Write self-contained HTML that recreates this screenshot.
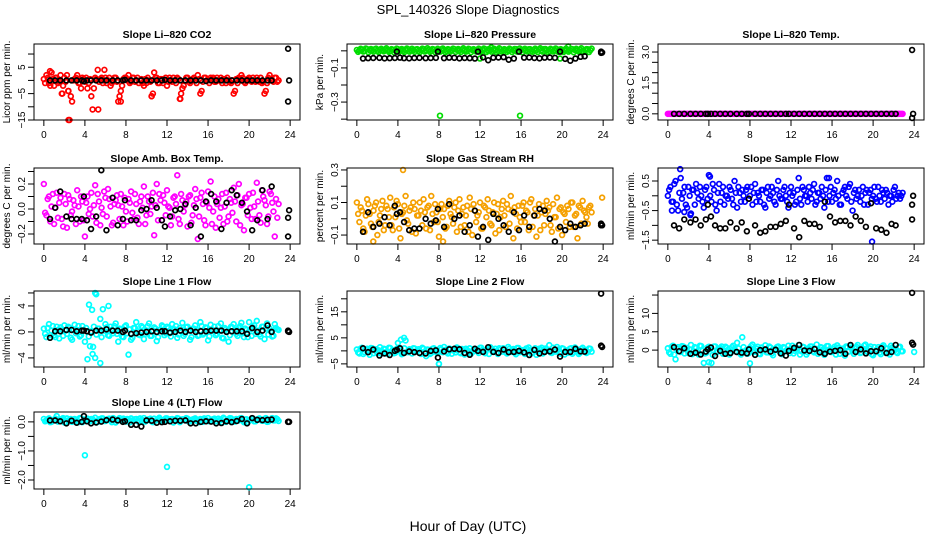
<!DOCTYPE html>
<html><head><meta charset="utf-8"><style>
html,body{margin:0;padding:0;background:#fff;}
svg{display:block;font-family:"Liberation Sans",sans-serif;}
</style></head><body>
<svg id="chart" width="936" height="540" viewBox="0 0 936 540" xmlns="http://www.w3.org/2000/svg">
<text x="468" y="14" text-anchor="middle" font-size="13">SPL_140326  Slope Diagnostics</text>
<text x="468" y="531" text-anchor="middle" font-size="14">Hour of Day (UTC)</text>
</svg>
<script>
const xTicks = [0,4,8,12,16,20,24];
const blackHours = [0.6,1.1,1.6,2.2,2.7,3.2,3.7,3.9,4.2,4.6,5.1,5.6,6.1,6.7,7.2,7.7,7.9,8.5,9,9.5,10,10.5,11,11.5,11.8,12.3,12.8,13.3,13.8,14.3,14.8,15.3,15.8,16.3,16.8,17.3,17.8,18.3,18.8,19.3,19.8,20.3,20.8,21.3,21.8,22.2];
const endHours = [23.8,23.8,23.9];
const colorStep = 0.25;

const co2Color = [0.5,2,-1,3,-2,1,-0.5,-5,1,2,-15,-8,0.5,2,-1,1,-0.5,-3,0.5,-11,1,4,0.5,-1,1,0,-2,0,1,-8,-4,0.5,1,2,-0.5,1,0,-1,0.5,-2,-1,0,-6,3,1,-1,0.5,0,-2,1,-0.5,0,1,-7,-3,0,1,-1,0.5,0,2,-5,-0.5,1,0,1,1,-0.5,0,1,0.5,-1,0,-1,-5,0.5,1,2,-0.5,0,1,-0.5,0,1,-0.5,-1,-5,-1,2,0,1,-0.5];
const co2Color2 = [-1,1,-2,0.5,1,-1,2,-2,-0.5,-4,-6,0,1,-1,-3,0.5,1,-1,-6,-3,0.5,-0.5,1,0,-1,1,-1,1,-0.5,-6,-2,1,0,-1,1,-0.5,1,0,-1,0.5,1,-0.5,-5,1,-1,0.5,-1,1,-0.5,0,1,-1,0.5,-5,-2,1,-0.5,0,1,-1,0.5,-4,1,0,-1,0.5,-0.5,1,0,-1,0.5,1,-0.5,0,-4,-1,0.5,1,-1,0.5,0,1,-0.5,0,1,-0.5,-4,1,0,-0.5,1,0];
const co2Black = [0,0,0,0,0,0,0,-0.3,0,0,0,0,0,0,0,0,0.2,0,0,0,0,0,0,0,0.2,0,0,0,0,0,0,0,-0.2,0,0,0,0,0,0,0,0,0,0,0,0,0];
const co2End = [12,-8,0];
const co2OutX = [2.4,2.4,5.3,1.8,7.5,10.5,13.3,0.6,5.9];
const co2OutY = [-15,-4,-11,-5,-8,-6,-7,3.5,4];

const presColor = [0.005,0.002,0.008,0,0.01,0.004,0.003,0.009,0.001,0.006,0.002,0.008,0.004,0,0.007,0.003,0.01,0.005,0.001,0.006,0.009,0.002,0.004,0.008,0,0.005,0.01,0.003,0.006,0.001,0.008,0.004,0.002,0.009,0.005,0,0.007,0.003,0.01,0.006,0.002,0.008,0.004,0.001,0.009,0.005,0.003,0.007,0,0.006,0.01,0.002,0.004,0.008,0.005,0.001,0.009,0.003,0.006,0.002,0.008,0.004,0.01,0,0.005,0.007,0.003,0.009,0.001,0.006,0.004,0.008,0.002,0.01,0.005,0,0.007,0.003,0.009,0.006,0.001,0.004,0.008,0.002,0.01,0.005,0.003,0.007,0,0.006,0.009,0.004];
const presColor2 = [-0.006,0.012,-0.004,0.014,-0.008,0.011,-0.005,0.013,-0.007,0.012,-0.003,0.015,-0.006,0.01,-0.008,0.013,-0.004,0.011,-0.007,0.014,-0.005,0.012,-0.006,0.01,-0.008,0.013,-0.004,0.015,-0.006,0.011,-0.007,0.012,-0.005,0.014,-0.008,0.01,-0.004,0.013,-0.006,0.011,-0.007,0.015,-0.005,0.012,-0.008,0.01,-0.004,0.013,-0.006,0.014,-0.007,0.011,-0.005,0.012,-0.008,0.015,-0.004,0.01,-0.006,0.013,-0.007,0.011,-0.005,0.014,-0.008,0.012,-0.004,0.01,-0.006,0.013,-0.007,0.015,-0.005,0.011,-0.008,0.012,-0.004,0.014,-0.006,0.01,-0.007,0.013,-0.005,0.011,-0.008,0.012,-0.004,0.015,-0.006,0.01,-0.007,0.013];
const presBlack = [-0.045,-0.043,-0.042,-0.041,-0.044,-0.043,-0.042,-0.005,-0.04,-0.043,-0.044,-0.042,-0.041,-0.043,-0.042,-0.041,-0.005,-0.043,-0.04,-0.041,-0.044,-0.042,-0.043,-0.045,-0.005,-0.038,-0.055,-0.04,-0.039,-0.037,-0.052,-0.045,-0.005,-0.04,-0.039,-0.042,-0.044,-0.04,-0.039,-0.041,-0.005,-0.047,-0.058,-0.045,-0.035,-0.032];
const presEnd = [-0.005,-0.012,-0.01];
const presOutX = [8.1,15.9,12,19.8,20.6,13.1];
const presOutY = [-0.38,-0.38,-0.045,-0.045,0.025,0.02];

const tempColor = new Array(92).fill(0);
const tempColor2 = new Array(92).fill(0);
const tempBlack = new Array(46).fill(0);
const tempEnd = [3.1,-0.2,0];
const tempOutX = [];
const tempOutY = [];

const ambColor = [0.2,-0.05,0.1,0.02,-0.12,0.13,0.05,-0.08,0.12,-0.15,0.08,-0.02,0.03,0.15,-0.1,0.06,-0.22,0.1,0,-0.06,0.19,0.12,-0.13,-0.04,0.09,0.16,0.02,-0.11,0.07,0.03,0.12,-0.13,-0.02,0.08,0.14,-0.08,0.04,-0.12,0.1,0.18,-0.05,0.06,0.02,-0.21,0.2,0.12,-0.09,0.05,0.15,0.01,-0.06,0.1,0.27,-0.12,0.07,0.03,-0.14,0.11,-0.05,0.16,-0.24,0.09,0.04,-0.13,0.14,0.22,-0.02,-0.15,0.08,0.01,-0.12,0.13,-0.06,0.05,0.17,-0.1,0.2,0.03,-0.17,0.09,0.12,-0.08,0.02,0.21,-0.05,0.15,0.07,-0.12,0.14,0.05,-0.22,-0.07];
const ambColor2 = [-0.03,0.08,-0.1,0.12,0.01,-0.07,0.09,-0.14,0.04,0.11,-0.05,0.07,-0.12,0.02,0.1,-0.09,0.05,-0.04,0.13,0.03,-0.11,0.06,0.01,0.14,-0.06,0.08,-0.13,0.04,0.11,-0.08,0.02,0.09,-0.1,0.05,-0.03,0.12,-0.07,0.06,0.01,-0.12,0.1,-0.04,0.13,0.03,-0.09,0.07,0.11,-0.05,0.02,-0.13,0.09,0.04,-0.08,0.12,-0.02,0.06,0.1,-0.11,0.03,0.08,-0.06,0.13,-0.09,0.05,0.01,-0.12,0.1,0.04,-0.07,0.12,0.02,-0.1,0.08,-0.03,0.06,0.11,-0.13,0.04,0.09,-0.05,0.01,0.13,-0.08,0.06,-0.11,0.1,0.03,-0.06,0.12,-0.02,0.08,0.04];
const ambBlack = [-0.08,0.01,0.14,-0.06,-0.08,-0.08,-0.08,0.1,-0.09,-0.16,-0.06,0.31,-0.17,0.09,-0.13,-0.08,0.07,-0.09,-0.09,-0.01,0,0.07,0.01,-0.09,-0.14,-0.06,-0.01,0,0.04,-0.13,0.01,-0.22,0.06,0.12,0.06,-0.16,0.05,0.15,0.11,0.05,-0.02,-0.17,-0.09,0.15,-0.08,0.18];
const ambEnd = [-0.22,-0.07,-0.01];
const ambOutX = [];
const ambOutY = [];

const rhColor = [0.1,-0.02,0.05,-0.08,0.12,0.03,-0.05,0.08,-0.1,0.02,0.11,-0.04,0.06,0.13,-0.07,0.01,0.09,-0.12,0.04,0.14,-0.03,0.07,0.1,-0.09,0.02,0.05,0.12,-0.06,0.08,0.14,-0.02,0.04,-0.11,0.09,0.06,-0.05,0.11,0.01,0.07,-0.08,0.12,0.03,-0.04,0.08,0.13,-0.1,0.05,0.02,0.1,-0.06,0.07,0.12,-0.03,0.04,-0.09,0.09,0.01,0.11,-0.05,0.06,0.14,-0.12,0.03,0.08,-0.02,0.1,0.05,-0.07,0.12,0.02,-0.11,0.09,0.04,-0.04,0.11,0.07,-0.08,0.01,0.13,0.06,-0.1,0.03,0.08,-0.05,0.1,0.02,-0.12,0.07,0.11,0.04,-0.03,0.08];
const rhColor2 = [0.03,0.07,-0.06,0.02,0.09,-0.03,0.05,0.1,-0.02,0.06,-0.07,0.08,0.01,-0.04,0.07,0.11,-0.06,0.03,0.08,-0.01,0.05,-0.08,0.06,0.02,0.1,-0.04,0.04,0.07,-0.07,0.03,0.09,-0.02,0.06,0.01,-0.06,0.08,0.03,-0.03,0.1,0.05,-0.05,0.07,0.02,-0.08,0.06,0.09,-0.02,0.04,-0.06,0.08,0.01,0.05,-0.04,0.1,0.03,-0.07,0.06,0.02,0.09,-0.03,0.05,0.07,-0.06,0.01,0.08,-0.02,0.04,0.1,-0.05,0.06,0.02,-0.07,0.08,0.03,0.05,-0.04,0.09,0.01,-0.06,0.07,0.04,-0.02,0.06,0.1,-0.05,0.03,0.08,-0.03,0.05,0.01,0.07,0.04];
const rhBlack = [-0.08,0.04,-0.05,-0.03,0.01,-0.04,0.08,0.03,0.04,-0.02,-0.07,-0.06,-0.06,0,-0.03,-0.01,0.06,-0.05,0.09,0,0.02,-0.08,-0.04,0.05,-0.11,-0.05,-0.13,0.03,0,-0.04,-0.08,0.04,-0.07,0.02,-0.05,0.02,0.06,0.05,0,-0.14,-0.05,-0.07,-0.03,-0.05,-0.04,-0.03];
const rhEnd = [-0.03,-0.04,-0.04];
const rhOutX = [4.5,8.4,23.9,1.6];
const rhOutY = [0.3,-0.14,0.13,-0.14];

const flowColor = [0,0.3,-0.2,0.5,-0.5,0.6,0.1,-0.3,0.3,-0.6,0.2,0.4,-0.1,0,-0.4,0.3,0.7,-0.2,0.2,-0.5,0.4,0.1,-0.3,0,0.3,-0.1,0.5,-0.4,0.1,0.2,-0.2,0.3,0,-0.3,0.4,0.1,-0.2,0.2,-0.4,0.3,0,0.1,-0.3,0.5,-0.1,0.2,0,-0.4,0.3,0.1,-0.2,0.6,-0.3,0.2,0,0.3,-0.1,0.4,-0.2,0.1,0.3,-0.4,0.6,0,-0.2,0.2,0.5,-0.3,0.1,0.3,-0.1,0.4,-0.5,0.2,0,-0.2,0.3,0.1,-0.3,0.2,0,-0.1,0.3,-0.2,0.1,0.2,-0.3,0,0.2,-0.1,0.1,0];
const flowColor2 = [0.2,-0.2,0.4,-0.3,0.1,-0.1,0.3,-0.4,0,0.2,-0.3,0.1,0.3,-0.2,0.2,-0.1,0,0.4,-0.3,0.1,-0.2,0.3,0,-0.1,0.2,-0.3,0.1,0.3,-0.2,0,0.2,-0.1,0.3,0.1,-0.2,0,0.2,-0.3,0.1,-0.1,0.3,-0.2,0.2,0,-0.1,0.3,-0.2,0.1,0,-0.3,0.2,-0.1,0.3,0,-0.2,0.1,0.2,-0.3,0.1,-0.1,0,0.2,-0.2,0.3,0.1,-0.1,0,-0.3,0.2,0,0.3,-0.2,0.1,-0.1,0.2,0,-0.3,0.2,0.1,-0.1,0.3,-0.2,0,0.2,-0.1,0.1,0,-0.2,0.3,0,-0.1,0.1];
const flowBlack = [-1,-1.1,-0.8,-0.9,-0.8,-1,-0.8,-0.3,-0.7,-1,-1.1,-1.1,-0.9,-1.1,-0.9,-1.2,-0.1,-1,-1.25,-1.2,-1.05,-1.05,-0.95,-0.85,-0.3,-1.1,-1.4,-0.85,-0.95,-0.95,-1.05,-0.2,-0.7,-0.9,-0.85,-0.85,-1,-0.7,-0.85,-1.05,-0.25,-1.1,-1.15,-1.25,-0.95,-1];
const flowEnd = [-0.8,-0.3,0];
const flowOutX = [1.2,19.9,0.4,1.6,2.2,4.1,15.7];
const flowOutY = [0.9,-1.55,-0.5,-0.55,-0.65,0.65,0.6];

const l1Color = [0.5,-0.8,1.2,0.2,-0.5,0.8,-1,0.4,1,-0.3,0.6,-1.2,1.1,0.3,-0.7,0.9,-1.5,-4.2,-2.2,-3.4,6,0.5,-4.8,3.5,1.2,-0.5,0.8,-0.2,1.3,-1.5,0.4,-0.8,1,-3.5,-1.2,0.6,1.5,-0.4,0.9,-1.1,0.2,1.3,-0.6,0.7,-1.4,0.3,1,-0.5,0.8,-0.2,1.2,0.4,-0.9,0.6,1.4,-0.3,0.8,-1.2,0.5,1,-0.6,1.5,-0.4,0.7,-1.3,1.1,0.2,-0.5,0.9,1.3,-1,0.4,-1.5,0.8,1.2,-0.3,0.6,1.4,-0.8,0.3,1.5,-0.6,1,1.7,-0.4,0.8,-1.1,1.3,0.5,-0.7,1.2,0.4];
const l1Color2 = [-0.3,0.6,-0.5,0.9,-0.8,0.3,0.7,-0.6,0.2,0.8,-0.9,0.4,-0.2,0.9,-0.5,0.3,0.6,-0.7,0.1,0.8,-0.4,0.5,-0.8,0.2,0.7,-0.6,0.3,0.9,-0.3,0.5,-0.7,0.8,-0.2,0.4,-0.9,0.6,0.1,-0.5,0.7,-0.3,0.9,-0.6,0.2,0.5,-0.8,0.4,0.8,-0.2,0.6,-0.7,0.3,0.9,-0.4,0.1,-0.6,0.7,0.2,-0.8,0.5,0.3,-0.5,0.9,-0.2,0.6,-0.7,0.4,0.8,-0.3,0.2,-0.9,0.6,0.1,-0.5,0.7,0.3,-0.6,0.9,-0.2,0.5,-0.8,0.4,0.7,-0.3,0.2,-0.7,0.8,0.5,-0.4,0.1,-0.6,0.6,0.3];
const l1Black = [-0.9,0.1,0.1,0.3,0.3,0.1,0.2,0.2,0.1,-0.1,0.2,0.2,0.4,0.2,0.2,0,0.2,-0.3,-0.2,-0.1,0,0.1,0,0.1,0.1,-0.1,0,0.2,0,0.2,0,0.1,0.1,0.2,0.2,0.2,0,0.1,0.1,0.1,-0.3,0.6,0,0.2,1,0];
const l1End = [0.1,0.2,0];
const l1OutX = [4.4,4.7,5.1,5.5,6.3,4.8,5];
const l1OutY = [4.2,3.4,5.8,2,4,-2.3,-4];

const l2Color = [0.5,-1,1.2,-0.5,0.8,-1.5,1,0.2,-0.8,1.4,-0.3,0.6,-1.2,1.1,0.3,-0.7,3,0.9,-1,4,-0.5,0.4,1,-0.3,0.6,-1.2,0.8,-2,0.4,-0.8,1,-0.5,-5,0.6,1.5,-0.4,0.9,-1.1,0.2,1.3,-0.6,0.7,-1.4,0.3,1,-0.5,0.8,-0.2,1.2,0.4,-0.9,0.6,1.4,-0.3,0.8,-1.2,0.5,1,-0.6,1.5,-0.4,0.7,-1.3,1.1,0.2,-0.5,0.9,1.3,-1,0.4,-1.5,0.8,1.2,-0.3,0.6,2.2,-0.8,0.3,1.5,-0.6,1,-1.4,-0.4,0.8,-1.1,1.3,0.5,-0.7,1.2,0.4,-0.5,0.8];
const l2Color2 = [-0.6,0.9,-1.2,0.4,-0.3,1.1,-0.9,0.6,0.2,-1.1,0.8,-0.5,1.2,-0.2,-0.9,0.7,0.3,-1.3,1,-0.4,0.6,-1,0.9,0.1,-0.7,1.2,-0.3,0.5,-1.2,0.8,0,-0.8,1.1,-0.5,0.4,-1,0.7,0.2,-0.6,1,-0.9,0.3,0.8,-0.4,-1.1,0.6,0.1,-0.8,1.2,-0.2,0.5,-1.2,0.9,0,-0.6,1,-0.3,0.4,-1,0.8,0.2,-0.7,1.1,-0.5,0.3,-1.2,0.7,0,-0.8,1,-0.4,0.6,-1,0.9,0.1,-0.6,1.2,-0.3,0.5,-1.1,0.8,0.2,-0.7,1,-0.5,0.4,-1.2,0.7,0,-0.8,0.9,-0.3];
const l2Black = [1,-0.5,0.5,-1.8,-1,-1.6,0,0.4,1,-0.8,-0.2,-0.5,-0.8,-1,0,0.2,-2.6,-0.2,0.6,0.8,0.6,-0.8,-1.5,0.8,0,-0.4,1.4,-0.4,-0.8,0.5,-0.5,-0.4,0,-0.6,-1.6,0.4,-1,-0.4,-0.2,0.5,-2.2,-0.4,-0.4,0.8,-0.2,-0.3];
const l2End = [22,2,1.5];
const l2OutX = [4.3,4.6,8];
const l2OutY = [4.3,5,-5];

const l3Color = [0.5,-1,1.2,-2.5,0.8,-0.5,1,0.2,-0.8,1.4,-0.3,0.6,-1.2,1.1,-3.5,-0.7,0.9,-3.5,1,-0.5,0.4,1,-0.3,0.6,-1.2,0.8,0.4,2,-0.8,3.5,-0.5,-1,0.6,1.5,-0.4,0.9,-1.1,0.2,1.3,-0.6,0.7,-1.4,0.3,1,-0.5,0.8,-0.2,1.2,0.4,-0.9,0.6,1.4,-0.3,0.8,-1.2,0.5,1,-0.6,1.5,-0.4,0.7,-1.3,1.1,0.2,-0.5,0.9,1.3,-1,0.4,-1.5,0.8,1.2,-0.3,0.6,1.4,-0.8,0.3,1.5,-0.6,1,-1.4,-0.4,0.8,-1.1,1.3,0.5,-0.7,1.2,0.4,-0.5,0.8,-0.3];
const l3Color2 = [-0.6,0.9,-1.2,0.4,-0.3,1.1,-0.9,0.6,0.2,-1.1,0.8,-0.5,1.2,-0.2,-0.9,0.7,0.3,-1.3,1,-0.4,0.6,-1,0.9,0.1,-0.7,1.2,-0.3,0.5,-1.2,0.8,0,-0.8,1.1,-0.5,0.4,-1,0.7,0.2,-0.6,1,-0.9,0.3,0.8,-0.4,-1.1,0.6,0.1,-0.8,1.2,-0.2,0.5,-1.2,0.9,0,-0.6,1,-0.3,0.4,-1,0.8,0.2,-0.7,1.1,-0.5,0.3,-1.2,0.7,0,-0.8,1,-0.4,0.6,-1,0.9,0.1,-0.6,1.2,-0.3,0.5,-1.1,0.8,0.2,-0.7,1,-0.5,0.4,-1.2,0.7,0,-0.8,0.9,-0.3];
const l3Black = [0.8,-0.3,0.5,-1,-0.7,-1.2,-0.4,0.2,0.7,-1.6,-0.2,-1,-0.8,-0.5,-0.7,-0.9,0.2,-1.3,0,0.2,-0.4,0.1,-0.9,-1.5,-0.2,0.6,1.4,-0.1,-0.2,0.3,-0.6,-1,-0.4,-0.2,0,-1,1.4,-0.5,0.2,-0.9,-0.3,-0.3,0.5,-0.8,-0.5,1.4];
const l3End = [15.6,2,1.5];
const l3OutX = [4,8,24];
const l3OutY = [-3.3,-3.6,-0.5];

const l4Color = [0.1,0.05,0.12,0,0.08,0.2,0.03,0.1,-0.02,0.12,0.06,0,0.1,0.04,0.13,-0.01,0.08,0.11,0.02,0.09,0.14,0,0.07,0.12,0.03,0.1,0.05,0.13,-0.02,0.09,0.06,0.11,0.01,0.08,0.12,0.04,0.1,0,0.07,0.13,0.05,0.09,0.02,0.11,0.06,0.14,0,0.08,0.12,0.03,0.1,0.05,0.13,-0.01,0.09,0.06,0.11,0.02,0.08,0.12,0.04,0.1,0,0.07,0.13,0.05,0.09,0.02,0.11,0.06,0.14,0,0.08,0.12,0.03,0.1,0.05,0.13,-0.01,0.09,0.06,0.11,0.02,0.08,0.12,0.04,0.1,0,0.07,0.13,0.05,0.09];
const l4Color2 = [0.02,0.09,-0.01,0.06,0.11,0.01,0.07,0.13,-0.02,0.05,0.1,0.03,0.08,-0.01,0.12,0.04,0.07,0.01,0.1,0.05,-0.02,0.09,0.12,0.03,0.06,0.11,-0.01,0.08,0.04,0.13,0.02,0.07,0.1,-0.02,0.05,0.09,0.03,0.12,0.06,0.01,0.08,0.11,-0.01,0.04,0.1,0.07,0.02,0.12,0.05,0.09,-0.02,0.06,0.11,0.03,0.08,0.13,0.01,0.07,0.1,0.04,-0.01,0.09,0.12,0.05,0.02,0.08,0.11,0.03,0.06,-0.02,0.1,0.07,0.13,0.04,0.01,0.09,0.12,0.05,0.08,-0.01,0.06,0.11,0.02,0.1,0.07,0.04,0.13,0.01,0.09,0.05,0.12,0.03];
const l4Black = [0.05,0.05,0.02,-0.05,0.04,-0.03,0,0.2,0.02,-0.05,-0.02,0.01,0.06,0.08,0.05,0,0.02,-0.1,-0.1,-0.16,0.05,0.04,-0.03,-0.01,0,0.02,0.04,0.04,0.05,-0.05,-0.05,0,0.02,0.01,-0.05,-0.04,0.02,-0.01,0.03,0.1,-0.05,0.13,0.07,0.06,0.07,0.08];
const l4End = [0,0,0];
const l4OutX = [4,12,20];
const l4OutY = [-1.15,-1.55,-2.25];

const panels = [
 {name:'co2',title:'Slope Li\u2013820 CO2',ylab:'Licor ppm per min.',col:0,row:0,ylim:[-15,13.8],ticks:[-15,-10,-5,0,5,10],labels:[-15,-5,5],color:'#ff0000',c:co2Color,c2:co2Color2,b:co2Black,e:co2End,ox:co2OutX,oy:co2OutY},
 {name:'pressure',title:'Slope Li\u2013820 Pressure',ylab:'kPa per min.',col:1,row:0,ylim:[-0.405,0.04],ticks:[-0.4,-0.3,-0.2,-0.1,0],labels:[-0.3,-0.1],color:'#00dd00',c:presColor,c2:presColor2,b:presBlack,e:presEnd,ox:presOutX,oy:presOutY},
 {name:'temp',title:'Slope Li\u2013820 Temp.',ylab:'degrees C per min.',col:2,row:0,ylim:[-0.3,3.39],ticks:[0,0.5,1,1.5,2,2.5,3],labels:['0.0','1.5','3.0'],color:'#ff00ff',c:tempColor,c2:tempColor2,b:tempBlack,e:tempEnd,ox:tempOutX,oy:tempOutY},
 {name:'amb-temp',title:'Slope Amb. Box Temp.',ylab:'degrees C per min.',col:0,row:1,ylim:[-0.28,0.328],ticks:[-0.2,-0.1,0,0.1,0.2,0.3],labels:['-0.2','0.0','0.2'],color:'#ff00ff',c:ambColor,c2:ambColor2,b:ambBlack,e:ambEnd,ox:ambOutX,oy:ambOutY},
 {name:'rh',title:'Slope Gas Stream RH',ylab:'percent per min.',col:1,row:1,ylim:[-0.155,0.312],ticks:[-0.1,0,0.1,0.2,0.3],labels:['-0.1','0.1','0.3'],color:'#f5a000',c:rhColor,c2:rhColor2,b:rhBlack,e:rhEnd,ox:rhOutX,oy:rhOutY},
 {name:'sample-flow',title:'Slope Sample Flow',ylab:'ml/min per min.',col:2,row:1,ylim:[-1.63,0.94],ticks:[-1.5,-1,-0.5,0,0.5],labels:['-1.5','-0.5','0.5'],color:'#0000ff',c:flowColor,c2:flowColor2,b:flowBlack,e:flowEnd,ox:flowOutX,oy:flowOutY},
 {name:'line1',title:'Slope Line 1 Flow',ylab:'ml/min per min.',col:0,row:2,ylim:[-5.4,6.3],ticks:[-4,-2,0,2,4,6],labels:[-4,0,4],color:'#00ffff',c:l1Color,c2:l1Color2,b:l1Black,e:l1End,ox:l1OutX,oy:l1OutY},
 {name:'line2',title:'Slope Line 2 Flow',ylab:'ml/min per min.',col:1,row:2,ylim:[-6.2,23],ticks:[-5,0,5,10,15,20],labels:[-5,5,15],color:'#00ffff',c:l2Color,c2:l2Color2,b:l2Black,e:l2End,ox:l2OutX,oy:l2OutY},
 {name:'line3',title:'Slope Line 3 Flow',ylab:'ml/min per min.',col:2,row:2,ylim:[-4.6,16.1],ticks:[0,5,10,15],labels:[0,5,10],color:'#00ffff',c:l3Color,c2:l3Color2,b:l3Black,e:l3End,ox:l3OutX,oy:l3OutY},
 {name:'line4',title:'Slope Line 4 (LT) Flow',ylab:'ml/min per min.',col:0,row:3,ylim:[-2.31,0.34],ticks:[-2,-1.5,-1,-0.5,0],labels:['-2.0','-1.0','0.0'],color:'#00ffff',c:l4Color,c2:l4Color2,b:l4Black,e:l4End,ox:l4OutX,oy:l4OutY}
];

const NS='http://www.w3.org/2000/svg';
const svg=document.getElementById('chart');
const LEFTS=[34,347,658], TOPS=[44,168,291,412], W=266, H=76;
function mk(tag,attrs,parent){const el=document.createElementNS(NS,tag);for(const k in attrs)el.setAttribute(k,attrs[k]);(parent||svg).appendChild(el);return el;}

panels.forEach(p=>{
  const L=LEFTS[p.col], T=TOPS[p.row], B=T+H+(p.row===3?1:0);
  const g=mk('g',{});
  
  
  const xs=h=>L+ (h+0.96)/25.92*W;
  const ys=v=>B-(v-p.ylim[0])/(p.ylim[1]-p.ylim[0])*(B-T);
  const t=mk('text',{x:L+W/2,y:T-6,'text-anchor':'middle','font-size':'10.5','font-weight':'bold'},g);
  t.textContent=p.title;
  
  
  const yl=mk('text',{x:0,y:0,'text-anchor':'middle','font-size':'10',transform:`translate(${L-24},${(T+B)/2}) rotate(-90)`},g);
  yl.textContent=p.ylab;
  
  
  xTicks.forEach(h=>{
    const x=xs(h);
    mk('line',{x1:x,x2:x,y1:B,y2:B+6,stroke:'#000','stroke-width':1},g);
    const tl=mk('text',{x:x,y:B+18,'text-anchor':'middle','font-size':'10'},g);
    tl.textContent=h;
    
    
  });
  p.ticks.forEach(v=>{const y=ys(v);mk('line',{x1:L-6,x2:L,y1:y,y2:y,stroke:'#000','stroke-width':1},g);});
  p.labels.forEach(v=>{
    const y=ys(parseFloat(v));
    const tl=mk('text',{x:0,y:0,'text-anchor':'middle','font-size':'10',transform:`translate(${L-9},${y}) rotate(-90)`},g);
    tl.textContent=String(v).replace('-','\u2212');
    
    
  });
  const dot=(h,v,col,nm)=>{
    const c=mk('circle',{cx:xs(h),cy:ys(v),r:2.4,fill:'none',stroke:col,'stroke-width':1.7},g);
    
    
  };
  p.c.forEach((v,i)=>dot(i*colorStep,v,p.color,'color-point'));
  p.c2.forEach((v,i)=>dot(i*colorStep+colorStep/2,v,p.color,'color-point'));
  p.ox.forEach((h,i)=>dot(h,p.oy[i],p.color,'color-point'));
  p.b.forEach((v,i)=>dot(blackHours[i],v,'#000','black-point'));
  p.e.forEach((v,i)=>dot(endHours[i],v,'#000','black-point'));
  const box=mk('rect',{x:L,y:T,width:W,height:B-T,fill:'none',stroke:'#000','stroke-width':1},g);
  
  
});
</script>
</body></html>
